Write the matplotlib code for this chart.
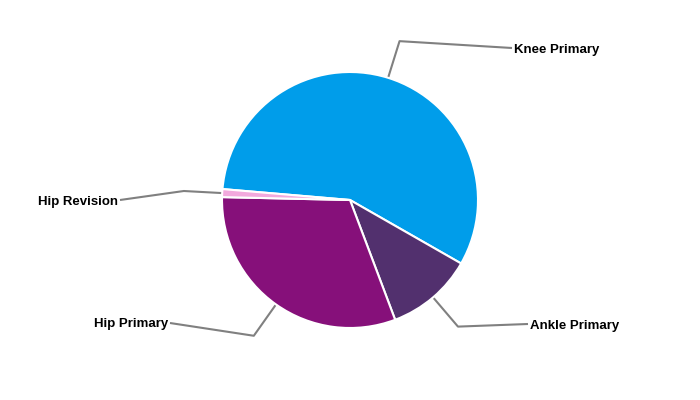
import numpy as np
import matplotlib
matplotlib.use('Agg')
import matplotlib.pyplot as plt

plt.rcParams['font.family'] = ['Liberation Sans', 'DejaVu Sans']

# Data
labels = ['Knee Primary', 'Ankle Primary', 'Hip Primary', 'Hip Revision']
shares = [56.9, 11.0, 31.1, 1.0]
colors = ['#009DEA', '#52306E', '#86107A', '#F2A9DD']

# Layout (pixel space, y up)
center = (350, 200)
radius = 128
start_angle = 175.1
# end of each leader line (where the label sits)
label_ends = [(512, 352), (528, 76), (170, 77), (120, 200)]

fig = plt.figure(figsize=(7, 4), dpi=100)
ax = fig.add_axes([0, 0, 1, 1])

wedges, _ = ax.pie(shares, colors=colors, startangle=start_angle, counterclock=False,
                   center=center, radius=radius,
                   wedgeprops=dict(edgecolor='white', linewidth=1.5))

# pie() resets the limits, so set them afterwards
ax.set_xlim(0, 700)
ax.set_ylim(0, 400)
ax.set_aspect('equal')
ax.axis('off')

for w, lab, end in zip(wedges, labels, label_ends):
    mid = np.deg2rad((w.theta1 + w.theta2) / 2)
    p0 = (center[0] + radius * np.cos(mid), center[1] + radius * np.sin(mid))
    p1 = (center[0] + 1.3 * radius * np.cos(mid), center[1] + 1.3 * radius * np.sin(mid))
    ax.plot([p0[0], p1[0], end[0]], [p0[1], p1[1], end[1]], color='#808080', lw=1.5,
            solid_capstyle='butt', zorder=0)
    right = end[0] > center[0]
    ax.text(end[0] + (2 if right else -2), end[1] - 1.5, lab, ha='left' if right else 'right',
            va='center', fontsize=9.5, fontweight='bold', color='black')

fig.savefig('out.png', dpi=100)
